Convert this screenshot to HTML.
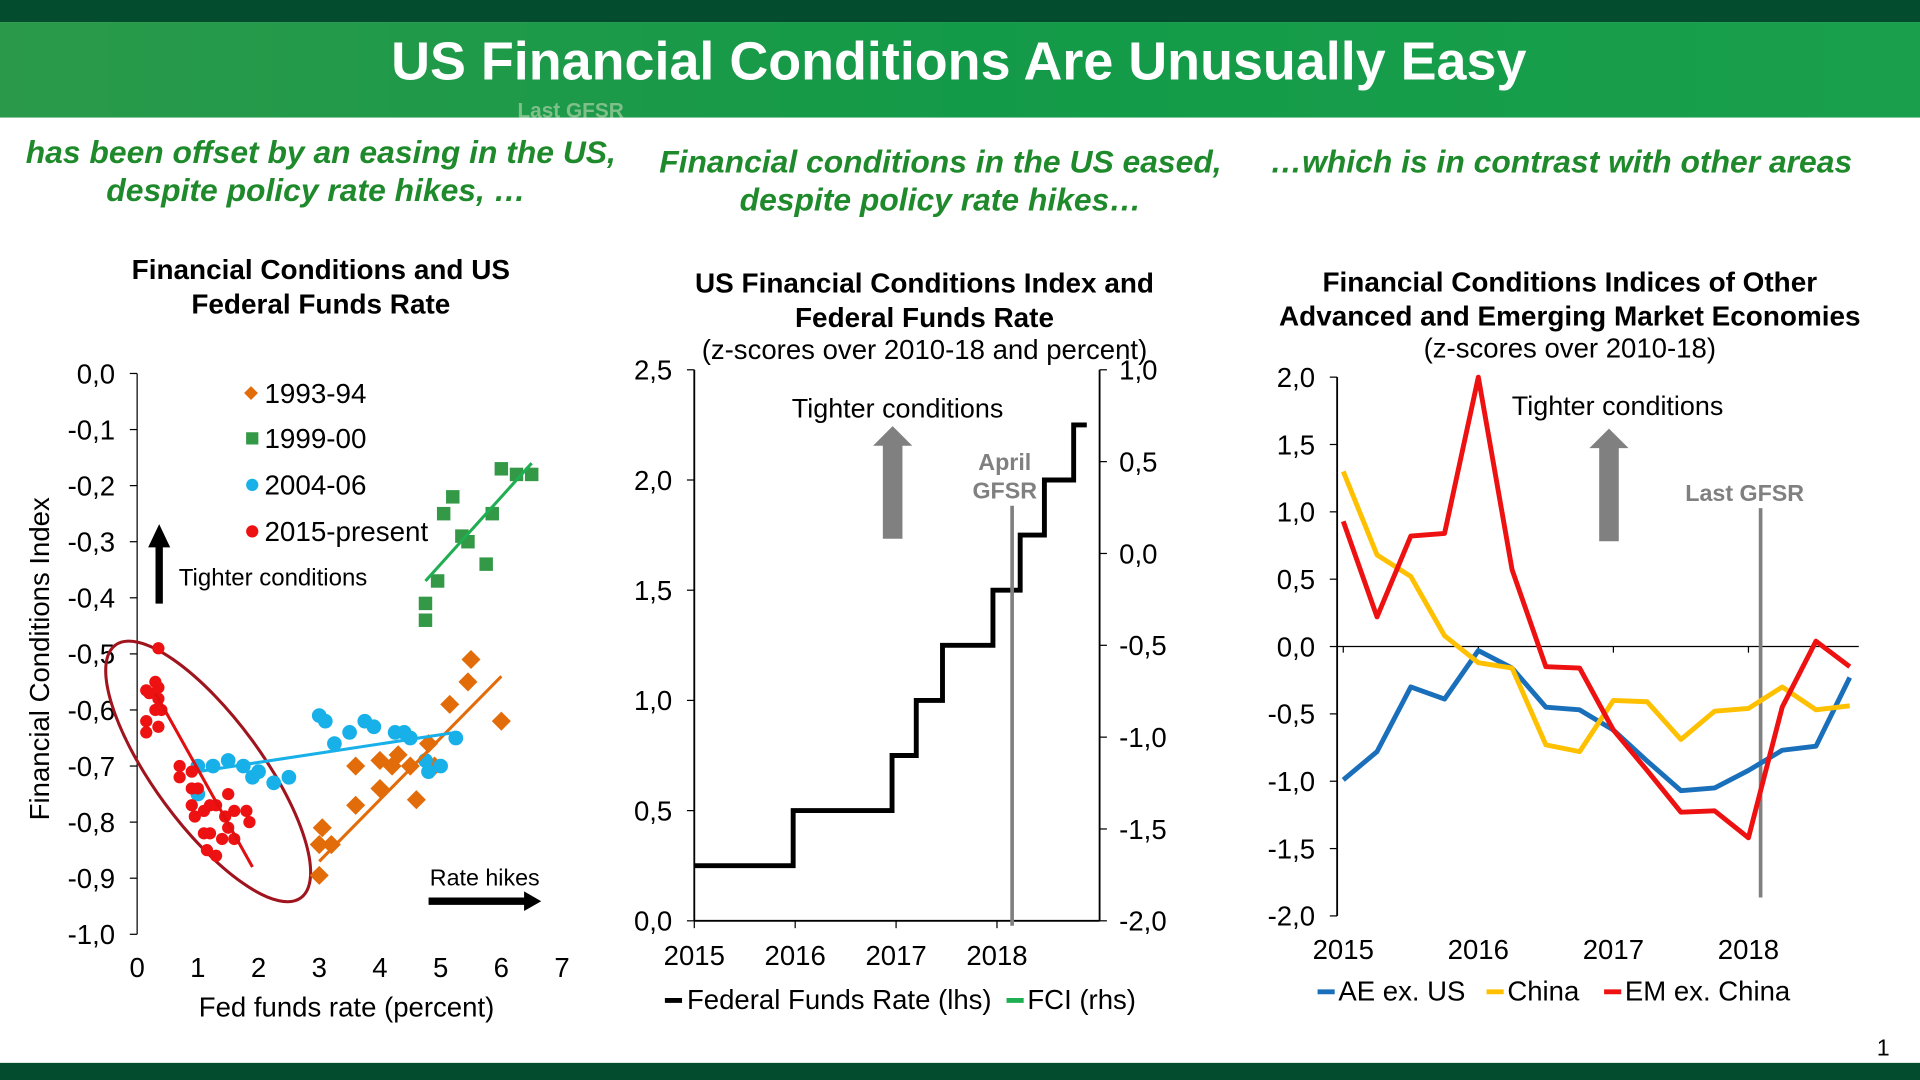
<!DOCTYPE html>
<html><head><meta charset="utf-8"><style>
html,body{margin:0;padding:0;background:#fff;}
svg{display:block;font-family:"Liberation Sans",Arial,sans-serif;}
</style></head><body>
<svg id="root" width="1920" height="1080" viewBox="0 0 1568 882" xmlns="http://www.w3.org/2000/svg">
<defs>
<linearGradient id="hg" x1="0" y1="0" x2="1" y2="0"><stop offset="0" stop-color="#2a9a4a"/><stop offset="0.5" stop-color="#139a48"/><stop offset="1" stop-color="#1aa04c"/></linearGradient>
</defs>
<rect x="0" y="0" width="1568" height="18" fill="#034d2e"/>
<rect x="0" y="18" width="1568" height="78" fill="url(#hg)"/>
<text x="783" y="65" text-anchor="middle" font-size="44" font-weight="bold" fill="#fff">US Financial Conditions Are Unusually Easy</text>
<text x="466" y="96" text-anchor="middle" font-size="17" font-weight="bold" fill="#7fbf8a">Last GFSR</text>
<rect x="0" y="868" width="1568" height="14" fill="#034d2e"/>
<text x="1538" y="862" text-anchor="middle" font-size="19" fill="#000">1</text>

<g font-style="italic" font-weight="bold" font-size="26" fill="#1f8a2b" text-anchor="middle">
<text x="262" y="133">has been offset by an easing in the US,</text>
<text x="258" y="164">despite policy rate hikes, …</text>
<text x="768" y="141">Financial conditions in the US eased,</text>
<text x="768" y="172">despite policy rate hikes…</text>
<text x="1275" y="141">…which is in contrast with other areas</text>
</g>

<g font-weight="bold" font-size="22.8" text-anchor="middle" fill="#000">
<text x="262" y="228">Financial Conditions and US</text>
<text x="262" y="256">Federal Funds Rate</text>
<text x="755" y="239">US Financial Conditions Index and</text>
<text x="755" y="267">Federal Funds Rate</text>
<text x="1282" y="238">Financial Conditions Indices of Other</text>
<text x="1282" y="266">Advanced and Emerging Market Economies</text>
</g>
<text x="755" y="293" text-anchor="middle" font-size="22.5">(z-scores over 2010-18 and percent)</text>
<text x="1282" y="292" text-anchor="middle" font-size="22.5">(z-scores over 2010-18)</text>

<g id="c1"></g>
<g id="c2"></g>
<g id="c3"></g>
</svg>
<script>
// ---------- Chart 1 data ----------
const c1XTicks = [0,1,2,3,4,5,6,7];
const c1YTicks = [0,-0.1,-0.2,-0.3,-0.4,-0.5,-0.6,-0.7,-0.8,-0.9,-1.0];
const s9394x = [3,3,3.05,3.2,3.6,3.6,4,4,4.2,4.3,4.5,4.6,4.8,4.9,5.15,5.45,5.5,6];
const s9394y = [-0.895,-0.84,-0.81,-0.84,-0.77,-0.7,-0.69,-0.74,-0.7,-0.68,-0.7,-0.76,-0.66,-0.7,-0.59,-0.55,-0.51,-0.62];
const s9900x = [4.75,4.75,4.95,5.05,5.2,5.35,5.45,5.75,5.85,6,6.25,6.5];
const s9900y = [-0.41,-0.44,-0.37,-0.25,-0.22,-0.29,-0.3,-0.34,-0.25,-0.17,-0.18,-0.18];
const s0406x = [1,1,1.25,1.5,1.75,1.9,2,2.25,2.5,3,3.1,3.25,3.5,3.75,3.9,4.25,4.4,4.5,4.75,4.8,5,5.25];
const s0406y = [-0.7,-0.75,-0.7,-0.69,-0.7,-0.72,-0.71,-0.73,-0.72,-0.61,-0.62,-0.66,-0.64,-0.62,-0.63,-0.64,-0.64,-0.65,-0.69,-0.71,-0.7,-0.65];
const s15x = [0.15,0.2,0.3,0.35,0.35,0.35,0.3,0.15,0.15,0.4,0.35,0.7,0.7,0.9,0.9,1.0,0.9,0.95,1.1,1.2,1.3,1.1,1.2,1.15,1.3,1.4,1.5,1.45,1.6,1.8,1.85,1.6,1.5];
const s15y = [-0.565,-0.57,-0.55,-0.56,-0.49,-0.58,-0.6,-0.62,-0.64,-0.6,-0.63,-0.7,-0.72,-0.71,-0.74,-0.74,-0.77,-0.79,-0.78,-0.77,-0.77,-0.82,-0.82,-0.85,-0.86,-0.83,-0.81,-0.79,-0.78,-0.78,-0.8,-0.83,-0.75];
const fit9394 = [[3,-0.87],[6,-0.54]];
const fit9900 = [[4.75,-0.37],[6.5,-0.16]];
const fit0406 = [[1,-0.71],[5.25,-0.64]];
const fit15 = [[0.3,-0.57],[1.9,-0.88]];

// ---------- Chart 2 data ----------
const c2Years = [2015,2016,2017,2018];
const c2LeftTicks = [0,0.5,1.0,1.5,2.0,2.5];
const c2RightTicks = [-2.0,-1.5,-1.0,-0.5,0.0,0.5,1.0];
const ffrT = [2015.0,2015.98,2016.96,2017.2,2017.46,2017.96,2018.23,2018.47,2018.76,2018.89];
const ffrV = [0.25,0.5,0.75,1.0,1.25,1.5,1.75,2.0,2.25];
const gfsr2 = 2018.15;

// ---------- Chart 3 data ----------
const c3Years = [2015,2016,2017,2018];
const c3YTicks = [2.0,1.5,1.0,0.5,0.0,-0.5,-1.0,-1.5,-2.0];
const c3T = [2015,2015.25,2015.5,2015.75,2016,2016.25,2016.5,2016.75,2017,2017.25,2017.5,2017.75,2018,2018.25,2018.5,2018.75];
const aeUS = [-0.99,-0.78,-0.3,-0.39,-0.03,-0.16,-0.45,-0.47,-0.62,-0.85,-1.07,-1.05,-0.92,-0.77,-0.74,-0.23];
const china = [1.3,0.68,0.52,0.08,-0.12,-0.16,-0.73,-0.78,-0.4,-0.41,-0.69,-0.48,-0.46,-0.3,-0.47,-0.44];
const emxc = [0.93,0.22,0.82,0.84,2.0,0.57,-0.15,-0.16,-0.62,-0.92,-1.23,-1.22,-1.42,-0.45,0.04,-0.15];
const gfsr3 = 2018.09;

const NS='http://www.w3.org/2000/svg';
const FS=22.5;
function mk(parent, tag, attrs, txt){const e=document.createElementNS(NS,tag);for(const k in attrs)e.setAttribute(k,attrs[k]);if(txt!==undefined)e.textContent=txt;parent.appendChild(e);return e;}
const fmt=v=>v.toFixed(1).replace('.',',').replace('-0,0','0,0');

// ===== Chart 1 =====
(function(){
const g=document.getElementById('c1');
const X=v=>112+v*(459-112)/7, Y=v=>305+(-v)*458;
let ax=mk(g,'line',{x1:112,y1:305,x2:112,y2:763,stroke:'#000','stroke-width':1});


c1YTicks.forEach(v=>{mk(g,'line',{x1:106,x2:112,y1:Y(v),y2:Y(v),stroke:'#000'});
 let t=mk(g,'text',{x:94,y:Y(v)+8,'text-anchor':'end','font-size':FS},fmt(v));
 
 });
c1XTicks.forEach(v=>{let t=mk(g,'text',{x:X(v),y:798,'text-anchor':'middle','font-size':FS},String(v));
 
 });
let xt=mk(g,'text',{x:283,y:830,'text-anchor':'middle','font-size':FS},'Fed funds rate (percent)');


let yt=mk(g,'text',{x:0,y:0,'text-anchor':'middle','font-size':FS,transform:'translate(40,538) rotate(-90)'},'Financial Conditions Index');


let el=mk(g,'ellipse',{cx:170,cy:630,rx:128,ry:44,fill:'none',stroke:'#a0141e','stroke-width':2.5,transform:'rotate(53.7 170 630)'});


function fit(p,c){let l=mk(g,'line',{x1:X(p[0][0]),y1:Y(p[0][1]),x2:X(p[1][0]),y2:Y(p[1][1]),stroke:c,'stroke-width':2.5});
 
 }
s9394x.forEach((x,i)=>{const cx=X(x),cy=Y(s9394y[i]);let p=mk(g,'rect',{x:cx-5.5,y:cy-5.5,width:11,height:11,fill:'#e36c0a',transform:`rotate(45 ${cx} ${cy})`});
 
 });
s9900x.forEach((x,i)=>{let p=mk(g,'rect',{x:X(x)-5.5,y:Y(s9900y[i])-5.5,width:11,height:11,fill:'#339947'});
 
 });
s0406x.forEach((x,i)=>{let p=mk(g,'circle',{cx:X(x),cy:Y(s0406y[i]),r:6,fill:'#17b0e8'});
 
 });
s15x.forEach((x,i)=>{let p=mk(g,'circle',{cx:X(x),cy:Y(s15y[i]),r:5,fill:'#ee1111'});
 
 });
fit(fit9394,'#e36c0a');fit(fit9900,'#1fae52');fit(fit0406,'#17b0e8');fit(fit15,'#e01010');
const leg=[['1993-94','#e36c0a','d',321],['1999-00','#339947','s',358],['2004-06','#17b0e8','c',396],['2015-present','#ee1111','c',434]];
leg.forEach(([lab,c,sh,y])=>{
 let m;
 if(sh==='d')m=mk(g,'rect',{x:201,y:y-4,width:8,height:8,fill:c,transform:`rotate(45 205 ${y})`});
 else if(sh==='s')m=mk(g,'rect',{x:201,y:y-5,width:10,height:10,fill:c});
 else m=mk(g,'circle',{cx:206,cy:y,r:5,fill:c});
 
 
 let t=mk(g,'text',{x:216,y:y+8,'font-size':22.7},lab);
 
 });
let ar=mk(g,'path',{d:'M127,493 L127,447 L121,447 L130,428 L139,447 L133,447 L133,493 Z',fill:'#000'});


let tt=mk(g,'text',{x:146,y:478,'font-size':19.6},'Tighter conditions');


let rh=mk(g,'text',{x:351,y:723,'font-size':19},'Rate hikes');


let ra=mk(g,'path',{d:'M350,733 L428,733 L428,728 L442,736 L428,744 L428,739 L350,739 Z',fill:'#000'});


})();

// ===== Chart 2 =====
(function(){
const g=document.getElementById('c2');
const X=t=>567+(t-2015)*82.4, YL=v=>752-v*180, YR=v=>752-(v+2)*150;
mk(g,'line',{x1:567,y1:302,x2:567,y2:752,stroke:'#000','stroke-width':1.5});
mk(g,'line',{x1:567,y1:752,x2:898,y2:752,stroke:'#000','stroke-width':1.5});
let ra=mk(g,'line',{x1:898,y1:302,x2:898,y2:752,stroke:'#000','stroke-width':1.5});


c2LeftTicks.forEach(v=>{mk(g,'line',{x1:561,x2:567,y1:YL(v),y2:YL(v),stroke:'#000'});
 let t=mk(g,'text',{x:549,y:YL(v)+8,'text-anchor':'end','font-size':FS},fmt(v));
 
 });
c2RightTicks.forEach(v=>{mk(g,'line',{x1:898,x2:904,y1:YR(v),y2:YR(v),stroke:'#000'});
 let t=mk(g,'text',{x:914,y:YR(v)+8,'font-size':FS},fmt(v));
 
 });
c2Years.forEach(y=>{mk(g,'line',{x1:X(y),x2:X(y),y1:752,y2:758,stroke:'#000'});
 let t=mk(g,'text',{x:X(y),y:788,'text-anchor':'middle','font-size':FS},String(y));
 
 });
let d='';
ffrV.forEach((v,i)=>{d+=(i===0?'M':'L')+X(ffrT[i])+','+YL(v)+' L'+X(ffrT[i+1])+','+YL(v)+' ';});
let p=mk(g,'path',{d:d,fill:'none',stroke:'#000','stroke-width':4});


let gl=mk(g,'line',{x1:X(gfsr2),x2:X(gfsr2),y1:413,y2:756,stroke:'#808080','stroke-width':3});


let gt1=mk(g,'text',{x:X(gfsr2)-6,y:384,'text-anchor':'middle','font-size':19,'font-weight':'bold',fill:'#808080'},'April');


let gt2=mk(g,'text',{x:X(gfsr2)-6,y:407,'text-anchor':'middle','font-size':19,'font-weight':'bold',fill:'#808080'},'GFSR');


let tc=mk(g,'text',{x:733,y:341,'text-anchor':'middle','font-size':22,},'Tighter conditions');


let ar=mk(g,'path',{d:'M721,440 L721,364 L713,364 L729,348 L745,364 L737,364 L737,440 Z',fill:'#808080'});


mk(g,'line',{x1:543,x2:557,y1:817,y2:817,stroke:'#000','stroke-width':4});
let l1=mk(g,'text',{x:561,y:824,'font-size':FS},'Federal Funds Rate (lhs)');


mk(g,'line',{x1:822,x2:836,y1:817,y2:817,stroke:'#1fae52','stroke-width':4});
let l2=mk(g,'text',{x:839,y:824,'font-size':FS},'FCI (rhs)');


})();

// ===== Chart 3 =====
(function(){
const g=document.getElementById('c3');
const X=t=>1097+(t-2015)*110.3, Y=v=>528-v*110;
mk(g,'line',{x1:1092,y1:Y(2),x2:1092,y2:Y(-2),stroke:'#000','stroke-width':1.5});
mk(g,'line',{x1:1092,y1:Y(0),x2:1518,y2:Y(0),stroke:'#000','stroke-width':1});
c3YTicks.forEach(v=>{mk(g,'line',{x1:1086,x2:1092,y1:Y(v),y2:Y(v),stroke:'#000'});
 let t=mk(g,'text',{x:1074,y:Y(v)+8,'text-anchor':'end','font-size':FS},fmt(v));
 
 });
c3Years.forEach(y=>{let t=mk(g,'text',{x:X(y),y:783,'text-anchor':'middle','font-size':FS},String(y));
 
 
 mk(g,'line',{x1:X(y),x2:X(y),y1:Y(0),y2:Y(0)+5,stroke:'#000'});});
let gl=mk(g,'line',{x1:X(gfsr3),x2:X(gfsr3),y1:415,y2:733,stroke:'#808080','stroke-width':3});


let gt=mk(g,'text',{x:X(gfsr3)-13,y:409,'text-anchor':'middle','font-size':19,'font-weight':'bold',fill:'#808080'},'Last GFSR');


let tc=mk(g,'text',{x:1321,y:339,'text-anchor':'middle','font-size':22},'Tighter conditions');


let ar=mk(g,'path',{d:'M1306,442 L1306,366 L1298,366 L1314,350 L1330,366 L1322,366 L1322,442 Z',fill:'#808080'});


function line(vals,c,name){const pts=vals.map((v,i)=>X(c3T[i])+','+Y(v)).join(' ');
 let p=mk(g,'polyline',{points:pts,fill:'none',stroke:c,'stroke-width':4,'stroke-linejoin':'round'});
 
 }
line(aeUS,'#1a6fba','ae-ex-us-line');
line(china,'#ffc000','china-line');
line(emxc,'#ee1111','em-ex-china-line');
const leg=[['AE ex. US','#1a6fba',1076],['China','#ffc000',1214],['EM ex. China','#ee1111',1310]];
leg.forEach(([lab,c,x])=>{mk(g,'line',{x1:x,x2:x+14,y1:810,y2:810,stroke:c,'stroke-width':4});
 let t=mk(g,'text',{x:x+17,y:817,'font-size':FS},lab);
 
 });
})();
</script>
</body></html>
